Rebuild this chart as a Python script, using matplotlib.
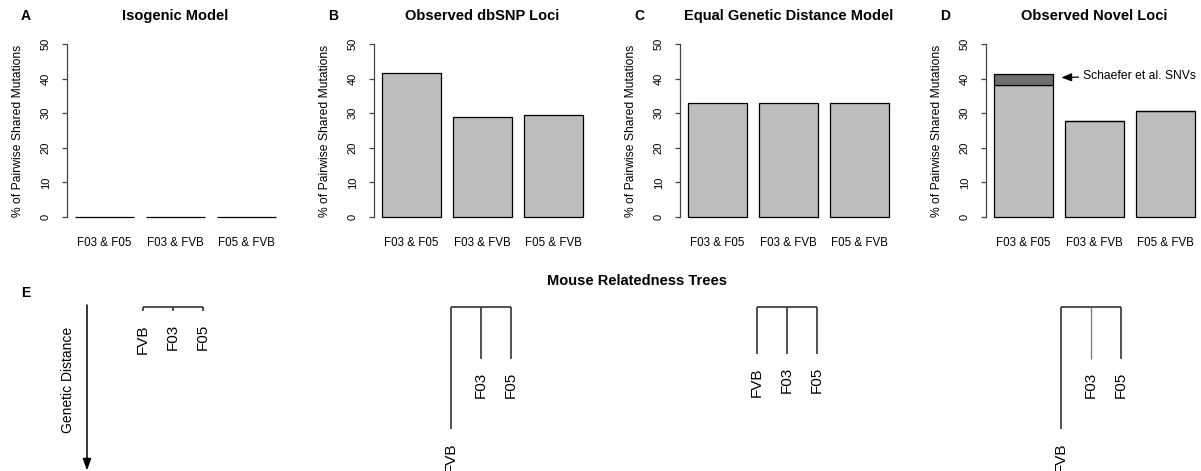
import matplotlib
matplotlib.use("Agg")
from matplotlib import pyplot as plt

plt.rcParams['font.family'] = ['Liberation Sans', 'DejaVu Sans']

# bar panel data (% of pairwise shared mutations)
pairs = ["F03 & F05", "F03 & FVB", "F05 & FVB"]
isogenic_pct = [0.0, 0.0, 0.0]
dbsnp_pct = [41.7, 28.8, 29.4]
equal_pct = [33.0, 33.0, 33.0]
novel_pct = [38.0, 27.8, 30.6]
schaefer_pct = [3.2, 0.0, 0.0]

panel_letters = ["A", "B", "C", "D"]
panel_titles = ["Isogenic Model", "Observed dbSNP Loci",
                "Equal Genetic Distance Model", "Observed Novel Loci"]

# relatedness trees: branch lengths (genetic distance) for each strain
strains = ["FVB", "F03", "F05"]
isogenic_branches = [0.04, 0.04, 0.04]
dbsnp_branches = [1.22, 0.52, 0.52]
equal_branches = [0.47, 0.47, 0.47]
novel_branches = [1.22, 0.52, 0.52]

W, H = 1201, 471
LIGHT = '#bebcbc'
DARK = '#6f6f6f'
LINE = '#333333'

fig = plt.figure(figsize=(W / 100, H / 100), dpi=100)


def px_axes(left, top, width, height):
    return fig.add_axes([left / W, 1 - (top + height) / H, width / W, height / H])


def bar_panel(left, values, letter, title, extra=None):
    ax = px_axes(left, 37, 217, 187)
    xs = [0.7 + 1.2 * i for i in range(len(values))]
    ax.bar(xs, values, width=1.0, color=LIGHT, edgecolor='black', linewidth=0.9)
    if extra is not None:
        ax.bar(xs, extra, width=1.0, bottom=values, color=DARK,
               edgecolor='black', linewidth=0.9)
    ax.set_xlim(0.064, 3.736)
    ax.set_ylim(-2, 52)
    for s in ['top', 'right', 'bottom']:
        ax.spines[s].set_visible(False)
    ax.spines['left'].set_bounds(0, 50)
    ax.spines['left'].set_color('#444444')
    ax.spines['left'].set_linewidth(0.9)
    ax.set_yticks([0, 10, 20, 30, 40, 50])
    ax.tick_params(axis='y', length=3.6, width=0.9, color='#444444', pad=8,
                   labelsize=8, labelrotation=90)
    for lab in ax.get_yticklabels():
        lab.set_va('center')
    ax.set_xticks(xs)
    ax.set_xticklabels(pairs)
    ax.tick_params(axis='x', length=0, pad=9, labelsize=8.3)
    ax.set_ylabel('% of Pairwise Shared Mutations', fontsize=8.7)
    ax.yaxis.set_label_coords(-0.2, 0.5)
    cx = left + 217 / 2
    fig.text(cx / W, 1 - 16 / H, title, ha='center', va='center',
             fontsize=10.5, fontweight='bold')
    fig.text((left - 41) / W, 1 - 16 / H, letter, ha='center', va='center',
             fontsize=10, fontweight='bold')
    return ax


lefts = [67, 374, 680, 986]
series = [isogenic_pct, dbsnp_pct, equal_pct, novel_pct]
for i in range(4):
    ax = bar_panel(lefts[i], series[i], panel_letters[i], panel_titles[i],
                   extra=schaefer_pct if i == 3 else None)
    if i == 3:
        top = novel_pct[0] + schaefer_pct[0]
        ax.annotate('Schaefer et al. SNVs', xy=(1.34, top - 0.9),
                    xytext=(1.7, top - 0.4), va='center', ha='left',
                    fontsize=8.7, annotation_clip=False,
                    arrowprops=dict(arrowstyle='-|>,head_length=0.7,head_width=0.28',
                                    color='black', lw=0.9, shrinkA=1, shrinkB=0))

# panel E: relatedness trees
ax_e = px_axes(0, 300, W, H - 300)
ax_e.set_xlim(0, W)
ax_e.set_ylim(1.64, -0.07)
ax_e.axis('off')

fig.text(26 / W, 1 - 293 / H, 'E', ha='center', va='center',
         fontsize=10, fontweight='bold')
fig.text(637 / W, 1 - 281 / H, 'Mouse Relatedness Trees', ha='center',
         va='center', fontsize=10.5, fontweight='bold')

ax_e.annotate('', xy=(87, 1.635), xytext=(87, -0.02),
              arrowprops=dict(arrowstyle='-|>,head_length=0.7,head_width=0.25',
                              color='black', lw=1.1, shrinkA=0, shrinkB=0))
ax_e.text(68, 0.73, 'Genetic Distance', rotation=90, ha='center', va='center',
          fontsize=10)

tree_centers = [173, 481, 787, 1091]
trees = [isogenic_branches, dbsnp_branches, equal_branches, novel_branches]
for t, (cx, branches) in enumerate(zip(tree_centers, trees)):
    tips = [cx - 30, cx, cx + 30]
    ax_e.plot([tips[0], tips[-1]], [0, 0], color=LINE, lw=1.2,
              solid_capstyle='butt')
    for j, (x, b) in enumerate(zip(tips, branches)):
        faint = (t == 3 and j == 1)
        ax_e.plot([x, x], [0, b], color='#777777' if faint else LINE,
                  lw=0.9 if faint else 1.2, solid_capstyle='butt')
        ax_e.annotate(strains[j], xy=(x, b), xytext=(0, -9.5),
                      textcoords='offset points', rotation=90, ha='center',
                      va='top', fontsize=11, annotation_clip=False)

fig.savefig('out.png', dpi=100)
